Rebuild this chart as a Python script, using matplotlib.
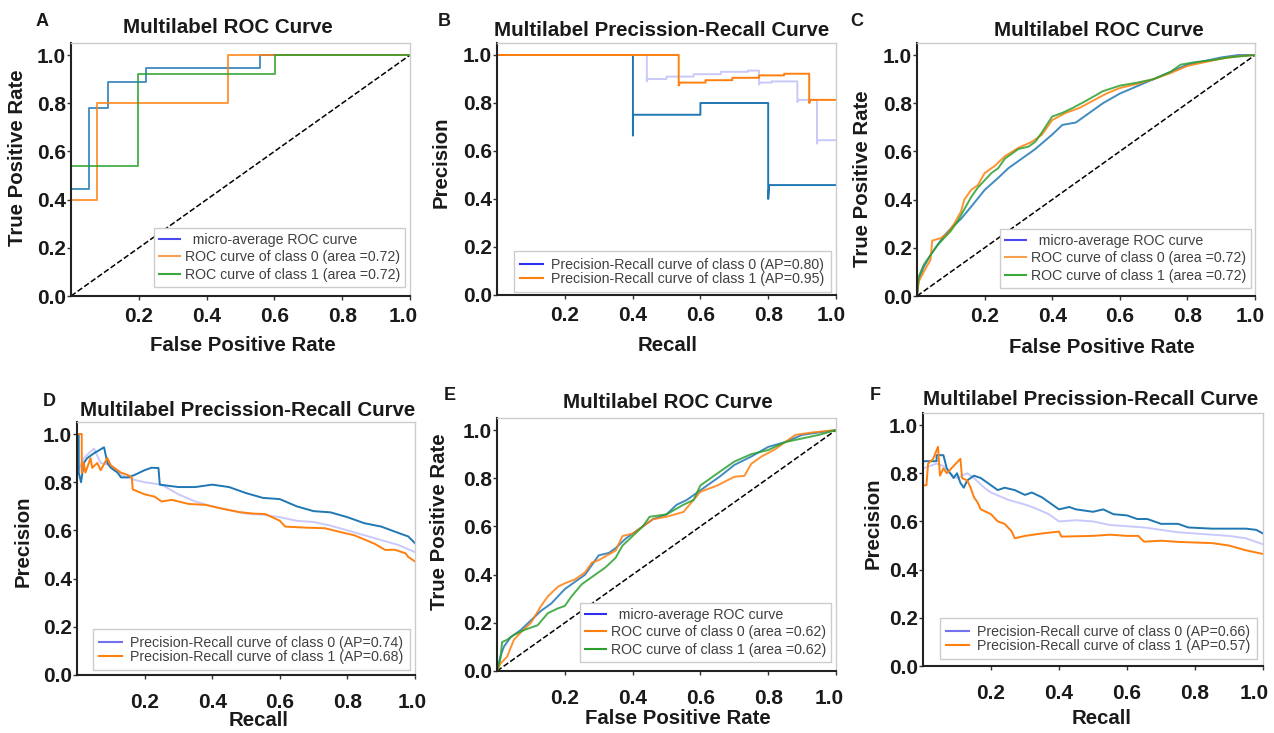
import matplotlib
matplotlib.use('Agg')
import matplotlib.pyplot as plt
from matplotlib.lines import Line2D
from matplotlib.transforms import ScaledTranslation

plt.rcParams['font.family'] = ['Liberation Sans', 'DejaVu Sans']

# ticks shared by every panel
xticks = [0.2, 0.4, 0.6, 0.8, 1.0]
yticks = [0.0, 0.2, 0.4, 0.6, 0.8, 1.0]

# legend labels
roc_labels_a = ['  micro-average ROC curve', 'ROC curve of class 0 (area =0.72)', 'ROC curve of class 1 (area =0.72)']
roc_labels_e = ['  micro-average ROC curve', 'ROC curve of class 0 (area =0.62)', 'ROC curve of class 1 (area =0.62)']
pr_labels_b = ['Precision-Recall curve of class 0 (AP=0.80)', 'Precision-Recall curve of class 1 (AP=0.95)']
pr_labels_d = ['Precision-Recall curve of class 0 (AP=0.74)', 'Precision-Recall curve of class 1 (AP=0.68)']
pr_labels_f = ['Precision-Recall curve of class 0 (AP=0.66)', 'Precision-Recall curve of class 1 (AP=0.57)']

# panel A - ROC (steps)
a_blue_x = [0, 0.054, 0.054, 0.110, 0.110, 0.222, 0.222, 0.557, 0.557, 1.0]
a_blue_y = [0.445, 0.445, 0.779, 0.779, 0.889, 0.889, 0.945, 0.945, 1.0, 1.0]
a_orange_x = [0, 0.076, 0.076, 0.462, 0.462, 1.0]
a_orange_y = [0.40, 0.40, 0.80, 0.80, 1.0, 1.0]
a_green_x = [0, 0.197, 0.197, 0.601, 0.601, 1.0]
a_green_y = [0.54, 0.54, 0.921, 0.921, 1.0, 1.0]

# panel B - precision/recall (steps)
b_micro_x = [0, 0.442, 0.442, 0.442, 0.50, 0.50, 0.58, 0.58, 0.66, 0.66, 0.74, 0.74, 0.773, 0.773,
             0.776, 0.81, 0.81, 0.886, 0.886, 0.89, 0.944, 0.944, 0.947, 1.0]
b_micro_y = [1.0, 1.0, 0.891, 0.90, 0.90, 0.91, 0.91, 0.92, 0.92, 0.93, 0.93, 0.935, 0.935, 0.877,
             0.885, 0.885, 0.89, 0.89, 0.804, 0.813, 0.813, 0.631, 0.645, 0.645]
b_blue_x = [0, 0.401, 0.401, 0.401, 0.600, 0.600, 0.800, 0.800, 0.803, 1.0]
b_blue_y = [1.0, 1.0, 0.665, 0.751, 0.751, 0.80, 0.80, 0.40, 0.458, 0.458]
b_orange_x = [0, 0.536, 0.536, 0.54, 0.615, 0.615, 0.694, 0.694, 0.773, 0.773, 0.847, 0.847,
              0.921, 0.921, 0.925, 1.0]
b_orange_y = [1.0, 1.0, 0.873, 0.885, 0.885, 0.895, 0.895, 0.905, 0.905, 0.915, 0.915, 0.922,
              0.922, 0.80, 0.813, 0.813]

# panel C - ROC
c_blue_x = [0, 0.005, 0.02, 0.04, 0.06, 0.08, 0.10, 0.13, 0.16, 0.20, 0.24, 0.27, 0.30, 0.35,
            0.40, 0.43, 0.47, 0.50, 0.55, 0.60, 0.65, 0.70, 0.75, 0.80, 0.85, 0.90, 0.95, 1.0]
c_blue_y = [0, 0.07, 0.12, 0.17, 0.21, 0.25, 0.28, 0.32, 0.37, 0.44, 0.49, 0.53, 0.56, 0.61,
            0.67, 0.71, 0.72, 0.75, 0.80, 0.84, 0.87, 0.90, 0.93, 0.96, 0.975, 0.99, 1.0, 1.0]
c_orange_x = [0, 0.005, 0.02, 0.04, 0.045, 0.07, 0.09, 0.11, 0.13, 0.14, 0.16, 0.18, 0.20, 0.23,
              0.26, 0.30, 0.34, 0.37, 0.40, 0.44, 0.48, 0.52, 0.56, 0.60, 0.65, 0.70, 0.75, 0.80,
              0.85, 0.90, 0.95, 1.0]
c_orange_y = [0, 0.06, 0.10, 0.15, 0.23, 0.24, 0.26, 0.30, 0.35, 0.40, 0.44, 0.46, 0.51, 0.54,
              0.58, 0.615, 0.64, 0.67, 0.73, 0.76, 0.78, 0.81, 0.84, 0.863, 0.88, 0.90, 0.925,
              0.955, 0.97, 0.985, 0.995, 1.0]
c_green_x = [0, 0.005, 0.02, 0.04, 0.06, 0.08, 0.10, 0.12, 0.14, 0.16, 0.18, 0.20, 0.22, 0.24,
             0.26, 0.28, 0.30, 0.33, 0.35, 0.37, 0.40, 0.43, 0.46, 0.50, 0.55, 0.60, 0.65, 0.70,
             0.75, 0.78, 0.82, 0.88, 0.92, 1.0]
c_green_y = [0, 0.08, 0.13, 0.17, 0.21, 0.24, 0.27, 0.31, 0.36, 0.41, 0.45, 0.48, 0.51, 0.53,
             0.57, 0.59, 0.61, 0.62, 0.64, 0.68, 0.745, 0.76, 0.78, 0.81, 0.85, 0.873, 0.885,
             0.90, 0.93, 0.96, 0.97, 0.98, 0.99, 1.0]

# panel D - precision/recall
d_micro_x = [0, 0.003, 0.005, 0.02, 0.05, 0.07, 0.10, 0.13, 0.17, 0.20, 0.25, 0.30, 0.35, 0.40,
             0.45, 0.50, 0.55, 0.60, 0.65, 0.70, 0.75, 0.80, 0.85, 0.90, 0.95, 1.0]
d_micro_y = [1.0, 1.0, 0.85, 0.90, 0.94, 0.88, 0.87, 0.83, 0.81, 0.80, 0.79, 0.75, 0.72, 0.70,
             0.685, 0.67, 0.665, 0.655, 0.64, 0.635, 0.62, 0.60, 0.58, 0.56, 0.54, 0.51]
d_blue_x = [0, 0.005, 0.005, 0.012, 0.02, 0.03, 0.05, 0.08, 0.09, 0.10, 0.12, 0.13, 0.15, 0.17,
            0.20, 0.22, 0.241, 0.245, 0.30, 0.35, 0.40, 0.45, 0.50, 0.55, 0.60, 0.65, 0.70, 0.75,
            0.80, 0.85, 0.90, 0.95, 0.98, 1.0]
d_blue_y = [1.0, 1.0, 0.84, 0.80, 0.88, 0.90, 0.92, 0.945, 0.88, 0.86, 0.84, 0.82, 0.82, 0.83,
            0.85, 0.86, 0.859, 0.79, 0.78, 0.78, 0.79, 0.78, 0.755, 0.735, 0.73, 0.70, 0.68, 0.675,
            0.655, 0.63, 0.616, 0.59, 0.575, 0.547]
d_orange_x = [0, 0.014, 0.014, 0.02, 0.025, 0.04, 0.045, 0.06, 0.07, 0.09, 0.10, 0.11, 0.13, 0.15,
              0.162, 0.165, 0.20, 0.23, 0.25, 0.28, 0.33, 0.38, 0.43, 0.48, 0.52, 0.557, 0.60, 0.616,
              0.67, 0.734, 0.774, 0.82, 0.853, 0.88, 0.912, 0.94, 0.972, 0.98, 1.0]
d_orange_y = [1.0, 1.0, 0.838, 0.88, 0.84, 0.90, 0.86, 0.88, 0.85, 0.90, 0.87, 0.86, 0.84, 0.83,
              0.82, 0.77, 0.75, 0.74, 0.72, 0.727, 0.71, 0.706, 0.69, 0.676, 0.67, 0.668, 0.64,
              0.616, 0.612, 0.609, 0.595, 0.58, 0.561, 0.545, 0.519, 0.52, 0.505, 0.49, 0.471]

# panel E - ROC
e_blue_x = [0, 0.01, 0.02, 0.04, 0.07, 0.10, 0.13, 0.16, 0.20, 0.23, 0.26, 0.30, 0.33, 0.35, 0.38,
            0.40, 0.43, 0.46, 0.50, 0.53, 0.56, 0.60, 0.63, 0.66, 0.70, 0.75, 0.80, 0.85, 0.90,
            0.95, 1.0]
e_blue_y = [0, 0.06, 0.10, 0.14, 0.17, 0.21, 0.25, 0.28, 0.34, 0.37, 0.40, 0.48, 0.49, 0.51, 0.55,
            0.57, 0.60, 0.63, 0.65, 0.69, 0.71, 0.75, 0.78, 0.81, 0.855, 0.89, 0.93, 0.95, 0.98,
            0.99, 1.0]
e_orange_x = [0, 0.01, 0.03, 0.05, 0.07, 0.10, 0.13, 0.15, 0.18, 0.20, 0.23, 0.26, 0.28, 0.30,
              0.35, 0.37, 0.40, 0.43, 0.46, 0.50, 0.55, 0.60, 0.65, 0.70, 0.73, 0.75, 0.78, 0.82,
              0.86, 0.88, 0.93, 1.0]
e_orange_y = [0, 0.03, 0.06, 0.13, 0.16, 0.20, 0.27, 0.31, 0.35, 0.364, 0.38, 0.41, 0.45, 0.46,
              0.50, 0.56, 0.57, 0.60, 0.63, 0.64, 0.66, 0.744, 0.77, 0.806, 0.81, 0.86, 0.89, 0.92,
              0.96, 0.98, 0.99, 1.0]
e_green_x = [0, 0.01, 0.015, 0.03, 0.05, 0.08, 0.12, 0.15, 0.18, 0.20, 0.22, 0.25, 0.28, 0.30,
             0.32, 0.35, 0.37, 0.40, 0.43, 0.45, 0.50, 0.55, 0.58, 0.60, 0.63, 0.66, 0.70, 0.75,
             0.80, 0.85, 0.90, 0.95, 1.0]
e_green_y = [0, 0.05, 0.12, 0.13, 0.15, 0.17, 0.19, 0.24, 0.26, 0.27, 0.31, 0.36, 0.39, 0.41,
             0.43, 0.47, 0.52, 0.56, 0.60, 0.64, 0.65, 0.69, 0.71, 0.77, 0.80, 0.83, 0.869, 0.90,
             0.917, 0.95, 0.965, 0.98, 1.0]

# panel F - precision/recall
f_micro_x = [0, 0.04, 0.06, 0.08, 0.10, 0.13, 0.15, 0.18, 0.20, 0.25, 0.30, 0.33, 0.37, 0.40,
             0.45, 0.50, 0.55, 0.60, 0.65, 0.70, 0.75, 0.80, 0.85, 0.90, 0.95, 1.0]
f_micro_y = [0.82, 0.84, 0.83, 0.80, 0.78, 0.80, 0.78, 0.74, 0.72, 0.69, 0.67, 0.655, 0.63, 0.60,
             0.605, 0.60, 0.585, 0.58, 0.575, 0.565, 0.555, 0.55, 0.545, 0.54, 0.53, 0.505]
f_blue_x = [0, 0.04, 0.04, 0.06, 0.07, 0.08, 0.09, 0.10, 0.11, 0.12, 0.13, 0.15, 0.17, 0.20, 0.22,
            0.24, 0.27, 0.30, 0.32, 0.35, 0.38, 0.40, 0.43, 0.45, 0.50, 0.53, 0.56, 0.60, 0.63,
            0.66, 0.70, 0.75, 0.78, 0.85, 0.90, 0.95, 0.98, 1.0]
f_blue_y = [0.85, 0.85, 0.875, 0.875, 0.82, 0.80, 0.78, 0.80, 0.76, 0.74, 0.77, 0.79, 0.78, 0.75,
            0.73, 0.74, 0.73, 0.71, 0.72, 0.70, 0.67, 0.65, 0.66, 0.65, 0.64, 0.65, 0.63, 0.625,
            0.61, 0.61, 0.59, 0.59, 0.575, 0.57, 0.57, 0.57, 0.565, 0.55]
f_orange_x = [0, 0.01, 0.015, 0.03, 0.044, 0.05, 0.06, 0.07, 0.09, 0.11, 0.115, 0.13, 0.14, 0.15,
              0.16, 0.17, 0.20, 0.22, 0.24, 0.26, 0.27, 0.30, 0.35, 0.40, 0.407, 0.50, 0.55, 0.60,
              0.633, 0.65, 0.70, 0.75, 0.85, 0.90, 0.95, 1.0]
f_orange_y = [0.75, 0.75, 0.84, 0.86, 0.91, 0.79, 0.82, 0.80, 0.83, 0.86, 0.78, 0.77, 0.74, 0.70,
              0.68, 0.65, 0.63, 0.60, 0.59, 0.56, 0.53, 0.54, 0.55, 0.558, 0.537, 0.54, 0.545,
              0.54, 0.54, 0.516, 0.52, 0.515, 0.51, 0.50, 0.48, 0.465]

BLUE = '#1f77b4'
ORANGE = '#ff7f0e'
GREEN = '#2ca02c'
LAVENDER = '#c9c9fb'

W, H = 1274, 733
fig = plt.figure(figsize=(W / 100, H / 100), dpi=100)


def make_ax(l, r, t, b):
    # pixel box -> figure fraction
    return fig.add_axes([l / W, 1 - b / H, (r - l) / W, (b - t) / H])


def setup(ax, title, tpos, xlabel, xlpos, ylabel, ylpos, xpad, last_shift):
    ax.set_xlim(0, 1)
    ax.set_ylim(0, 1.05)
    ax.set_xticks(xticks)
    ax.set_yticks(yticks)
    ax.set_xticklabels([f'{v:.1f}' for v in xticks])
    ax.set_yticklabels([f'{v:.1f}' for v in yticks])
    ax.tick_params(labelsize=15, length=3, width=1, color='#333333', labelcolor='#1a1a1a')
    ax.tick_params(axis='x', pad=xpad)
    ax.tick_params(axis='y', pad=0.5)
    for lbl in ax.get_xticklabels() + ax.get_yticklabels():
        lbl.set_fontweight('bold')
    # the last x label sits a little left of its tick in the original
    last = ax.get_xticklabels()[-1]
    last.set_transform(last.get_transform() + ScaledTranslation(last_shift / 100, 0, fig.dpi_scale_trans))
    for s in ['left', 'bottom']:
        ax.spines[s].set_color('#222222')
        ax.spines[s].set_linewidth(1.5)
    for s in ['top', 'right']:
        ax.spines[s].set_color('#cccccc')
        ax.spines[s].set_linewidth(1.0)
    ax.set_xlabel(xlabel, fontsize=14.7, fontweight='bold', color='#1a1a1a')
    ax.xaxis.set_label_coords(*xlpos)
    ax.set_ylabel(ylabel, fontsize=14.7, fontweight='bold', color='#1a1a1a')
    ax.yaxis.set_label_coords(*ylpos)
    ax.text(tpos[0], tpos[1], title, transform=ax.transAxes, ha='center', va='baseline',
            fontsize=14.8, fontweight='bold', color='#1a1a1a')


def add_legend(ax, colors, labels, anchor, spacing, hl, htp, bp):
    handles = [Line2D([], [], color=c, lw=1.5) for c in colors]
    leg = ax.legend(handles, labels, loc='lower right', bbox_to_anchor=anchor, borderaxespad=0,
                    fontsize=10.2, fancybox=False, edgecolor='#cccccc', framealpha=1,
                    handlelength=hl, handletextpad=htp, labelspacing=spacing, borderpad=bp,
                    labelcolor='#404040')
    leg.get_frame().set_linewidth(1.0)


roc_colors = ['#4a4aee', '#f5a050', '#3aa83a']

# A
ax = make_ax(71, 410, 43, 296)
ax.plot([0, 1], [0, 1], 'k--', lw=1.1)
ax.plot(a_blue_x, a_blue_y, color=BLUE, lw=1.4, alpha=0.8)
ax.plot(a_orange_x, a_orange_y, color=ORANGE, lw=1.4, alpha=0.8)
ax.plot(a_green_x, a_green_y, color=GREEN, lw=1.4, alpha=0.8)
setup(ax, 'Multilabel ROC Curve', (0.463, 1.040), 'False Positive Rate', (0.507, -0.158),
      'True Positive Rate', (-0.130, 0.545), 5, -7)
add_legend(ax, roc_colors, roc_labels_a, (0.985, 0.036), 0.25, 1.5, 0.3, 0.35)

# B
ax = make_ax(497, 836, 43, 295)
ax.plot(b_micro_x, b_micro_y, color=LAVENDER, lw=1.4)
ax.plot(b_blue_x, b_blue_y, color=BLUE, lw=1.4)
ax.plot(b_orange_x, b_orange_y, color=ORANGE, lw=1.4)
setup(ax, 'Multilabel Precission-Recall Curve', (0.487, 1.028), 'Recall', (0.504, -0.163),
      'Precision', (-0.136, 0.526), 5, -5)
add_legend(ax, ['#2f2ff0', ORANGE], pr_labels_b, (0.985, 0.012), 0.0, 1.6, 0.6, 0.45)

# C
ax = make_ax(917, 1255, 43, 296)
ax.plot([0, 1], [0, 1], 'k--', lw=1.1)
ax.plot(c_blue_x, c_blue_y, color=BLUE, lw=1.4, alpha=0.85)
ax.plot(c_orange_x, c_orange_y, color=ORANGE, lw=1.4, alpha=0.85)
ax.plot(c_green_x, c_green_y, color=GREEN, lw=1.4, alpha=0.85)
setup(ax, 'Multilabel ROC Curve', (0.538, 1.028), 'False Positive Rate', (0.547, -0.166),
      'True Positive Rate', (-0.133, 0.462), 5, -5)
add_legend(ax, roc_colors, roc_labels_a, (0.988, 0.032), 0.25, 1.5, 0.3, 0.35)

# D
ax = make_ax(77, 415, 422, 675)
ax.plot(d_micro_x, d_micro_y, color=LAVENDER, lw=1.4)
ax.plot(d_blue_x, d_blue_y, color=BLUE, lw=1.4)
ax.plot(d_orange_x, d_orange_y, color=ORANGE, lw=1.4)
setup(ax, 'Multilabel Precission-Recall Curve', (0.506, 1.024), 'Recall', (0.538, -0.142),
      'Precision', (-0.130, 0.53), 10, -3)
add_legend(ax, ['#7272f0', ORANGE], pr_labels_d, (0.985, 0.02), 0.0, 1.6, 0.6, 0.45)

# E
ax = make_ax(497, 836, 418, 671)
ax.plot([0, 1], [0, 1], 'k--', lw=1.1)
ax.plot(e_blue_x, e_blue_y, color=BLUE, lw=1.4, alpha=0.85)
ax.plot(e_orange_x, e_orange_y, color=ORANGE, lw=1.4, alpha=0.85)
ax.plot(e_green_x, e_green_y, color=GREEN, lw=1.4, alpha=0.85)
setup(ax, 'Multilabel ROC Curve', (0.504, 1.040), 'False Positive Rate', (0.534, -0.150),
      'True Positive Rate', (-0.142, 0.589), 10, -7)
add_legend(ax, ['#2f2ff0', ORANGE, GREEN], roc_labels_e, (0.985, 0.036), 0.25, 1.5, 0.3, 0.35)

# F
ax = make_ax(923, 1263, 413, 666)
ax.plot(f_micro_x, f_micro_y, color=LAVENDER, lw=1.4)
ax.plot(f_blue_x, f_blue_y, color=BLUE, lw=1.4)
ax.plot(f_orange_x, f_orange_y, color=ORANGE, lw=1.4)
setup(ax, 'Multilabel Precission-Recall Curve', (0.494, 1.032), 'Recall', (0.524, -0.170),
      'Precision', (-0.118, 0.565), 10, -9)
add_legend(ax, ['#7272f0', ORANGE], pr_labels_f, (0.982, 0.028), 0.0, 1.6, 0.6, 0.45)

# panel letters
for letter, px, py in [('A', 42, 21), ('B', 444, 22), ('C', 857, 21),
                       ('D', 49, 401), ('E', 450, 396), ('F', 875, 396)]:
    fig.text(px / W, 1 - py / H, letter, ha='center', va='center', fontsize=13,
             fontweight='bold', color='#1a1a1a')

fig.savefig('out.png', dpi=100)
